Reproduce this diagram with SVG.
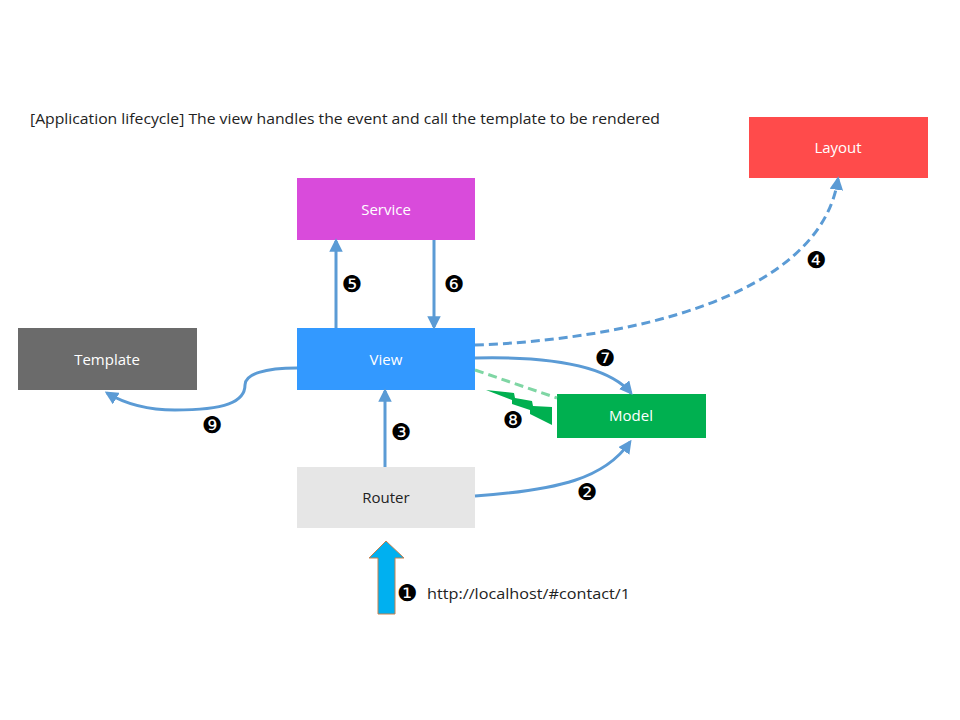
<svg xmlns="http://www.w3.org/2000/svg" width="960" height="720" viewBox="0 0 960 720">
<style>
.lbl{font-family:"Open Sans","DejaVu Sans",sans-serif;font-size:15px;text-anchor:middle;fill:#fff}
.num{font-family:"DejaVu Sans",sans-serif;font-size:23px;text-anchor:middle;fill:#000}
.txt{font-family:"Open Sans","Liberation Sans",sans-serif;font-size:15px;fill:#222}
.c{fill:none;stroke:#5B9BD5;stroke-width:3}
</style>
<defs>
<marker id="ah" viewBox="0 0 10 10" refX="8" refY="5" markerWidth="4.5" markerHeight="4.5" orient="auto" markerUnits="strokeWidth">
<path d="M0,0L10,5L0,10z" fill="#5B9BD5"/>
</marker>
</defs>
<rect width="960" height="720" fill="#fff"/>
<text class="txt" x="30" y="124" textLength="630" lengthAdjust="spacingAndGlyphs">[Application lifecycle] The view handles the event and call the template to be rendered</text>
<g id="layout"><rect x="749" y="117" width="179" height="61" fill="#FF4B4B"/><text class="lbl" x="838" y="153">Layout</text></g>
<g id="service"><rect x="297" y="178" width="178" height="62" fill="#D94BDB"/><text class="lbl" x="386" y="215">Service</text></g>
<g id="view"><rect x="297" y="328" width="178" height="62" fill="#3399FF"/><text class="lbl" x="386" y="365">View</text></g>
<g id="template"><rect x="18" y="328" width="179" height="62" fill="#6B6B6B"/><text class="lbl" x="107" y="365">Template</text></g>
<g id="model"><rect x="557" y="394" width="149" height="44" fill="#00B050"/><text class="lbl" x="631" y="421">Model</text></g>
<g id="router"><rect x="297" y="467" width="178" height="61" fill="#E6E6E6"/><text class="lbl" x="386" y="503" style="fill:#222">Router</text></g>
<g id="connectors">
<path class="c" d="M336,328L336,241" marker-end="url(#ah)"/>
<path class="c" d="M434,240L434,327" marker-end="url(#ah)"/>
<path class="c" d="M385,467L385,391" marker-end="url(#ah)"/>
<path class="c" d="M475,496C560,490 605,478 630,442" marker-end="url(#ah)"/>
<path class="c" d="M475,358C560,356 610,368 631,393" marker-end="url(#ah)"/>
<path class="c" d="M475,345C620,340 820,300 838,179" stroke-dasharray="9,5" marker-end="url(#ah)"/>
<path class="c" d="M297,368C265,368 245,374 245,385C245,402 225,410 175,410C145,410 122,402 107,393" marker-end="url(#ah)"/>
<path d="M475,370L557,398" fill="none" stroke="#7FD6A4" stroke-width="3" stroke-dasharray="9,5"/>
<polygon points="486,390 514,393 515,398 532,401 533,406 552,407 552,425 530,414 530,410 512,404 512,400" fill="#00B050"/>
<polygon points="386,541 404,558 395,558 395,614 378,614 378,558 369,558" fill="#00B0F0" stroke="#C5804E" stroke-width="1"/>
</g>
<g id="numbers">
<text class="num" x="407" y="601">❶</text>
<text class="num" x="587" y="500">❷</text>
<text class="num" x="401" y="440">❸</text>
<text class="num" x="816" y="268">❹</text>
<text class="num" x="352" y="292">❺</text>
<text class="num" x="454" y="292">❻</text>
<text class="num" x="605" y="366">❼</text>
<text class="num" x="513" y="428">❽</text>
<text class="num" x="212" y="433">❾</text>
</g>
<text class="txt" x="427" y="599" textLength="203" lengthAdjust="spacingAndGlyphs">http://localhost/#contact/1</text>
</svg>
